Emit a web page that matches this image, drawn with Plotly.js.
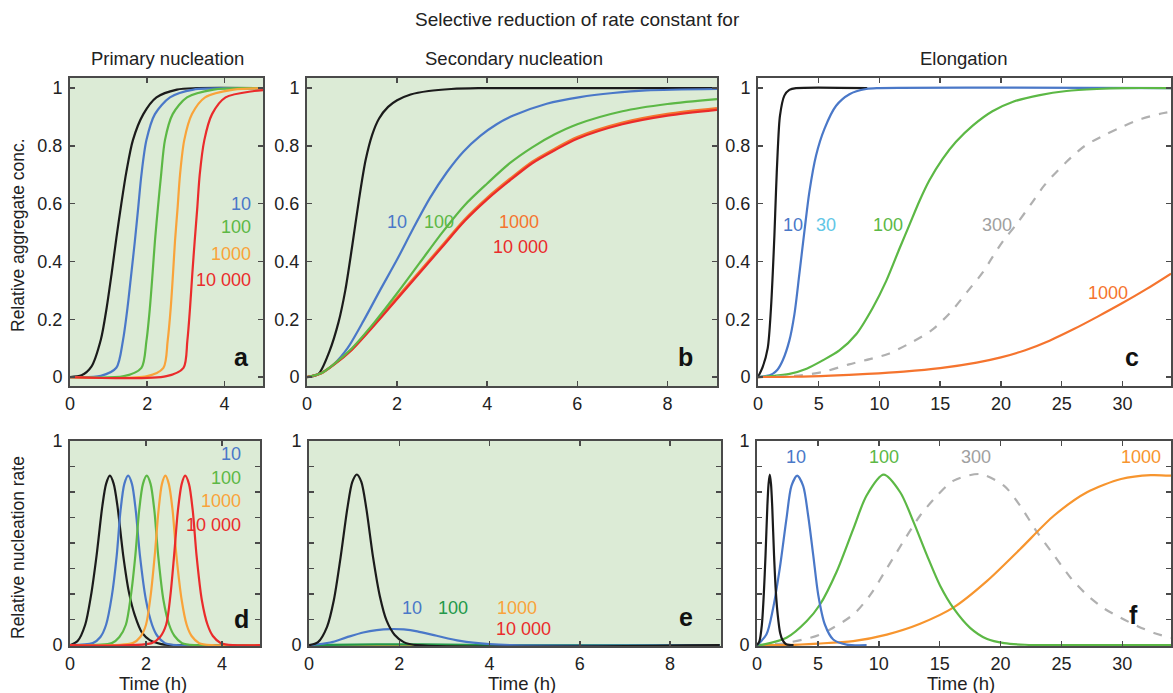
<!DOCTYPE html>
<html>
<head>
<meta charset="utf-8">
<script src="https://cdn.plot.ly/plotly-3.0.1.min.js"></script>
<style>html,body{margin:0;padding:0;background:#fff}#chart{width:1173px;height:693px}</style>
</head>
<body>
<div id="chart"></div>
<script>
// ---------- Panel a: primary nucleation, aggregate concentration ----------
const A_black_x = [0, 0.3, 0.55, 0.8, 0.95, 1.08, 1.2, 1.33, 1.46, 1.63, 1.9, 2.24, 2.77, 3.3, 5];
const A_black_y = [0, 0.006, 0.035, 0.13, 0.24, 0.36, 0.48, 0.6, 0.71, 0.82, 0.91, 0.968, 0.995, 1, 1];
const A_blue_x = [0, 0.8, 1.2, 1.37, 1.49, 1.59, 1.68, 1.77, 1.85, 1.98, 2.2, 2.59, 3.2, 4.2, 5];
const A_blue_y = [0, 0.004, 0.032, 0.125, 0.24, 0.36, 0.47, 0.59, 0.70, 0.82, 0.91, 0.968, 0.995, 1, 1];
const A_green_x = [0, 1.4, 1.85, 1.98, 2.07, 2.14, 2.2, 2.28, 2.36, 2.46, 2.66, 3.03, 3.72, 4.6, 5];
const A_green_y = [0, 0.003, 0.032, 0.125, 0.24, 0.36, 0.47, 0.59, 0.70, 0.82, 0.91, 0.968, 0.995, 1, 1];
const A_orange_x = [0, 2.0, 2.42, 2.53, 2.61, 2.67, 2.72, 2.79, 2.85, 2.96, 3.16, 3.5, 4.24, 5];
const A_orange_y = [0, 0.003, 0.032, 0.125, 0.24, 0.36, 0.47, 0.59, 0.70, 0.82, 0.91, 0.968, 0.995, 0.999];
const A_red_x = [0, 2.5, 2.94, 3.04, 3.11, 3.17, 3.23, 3.3, 3.36, 3.48, 3.68, 4.03, 4.77, 5];
const A_red_y = [0, 0.003, 0.032, 0.125, 0.24, 0.36, 0.47, 0.59, 0.70, 0.82, 0.91, 0.968, 0.99, 0.993];

// ---------- Panel b: secondary nucleation, aggregate concentration ----------
const B_black_x = [0, 0.25, 0.5, 0.7, 0.85, 1.0, 1.15, 1.3, 1.45, 1.6, 1.8, 2.0, 2.3, 2.7, 3.2, 3.8, 9.1];
const B_black_y = [0, 0.01, 0.09, 0.19, 0.3, 0.45, 0.61, 0.75, 0.84, 0.895, 0.935, 0.958, 0.978, 0.99, 0.997, 1, 1];
const B_blue_x = [0, 0.3, 0.6, 0.9, 1.26, 1.62, 1.99, 2.36, 2.73, 3.1, 3.47, 3.84, 4.21, 4.58, 5.32, 6.06, 6.79, 7.53, 9.1];
const B_blue_y = [0, 0.012, 0.045, 0.1, 0.196, 0.3, 0.404, 0.515, 0.62, 0.708, 0.78, 0.834, 0.875, 0.905, 0.946, 0.969, 0.983, 0.992, 0.997];
const B_green_x = [0, 0.3, 0.6, 1.0, 1.5, 2.0, 2.5, 3.0, 3.5, 4.0, 4.5, 5.0, 5.5, 6.0, 7.0, 8.0, 9.1];
const B_green_y = [0, 0.012, 0.045, 0.1, 0.19, 0.29, 0.395, 0.5, 0.595, 0.67, 0.74, 0.795, 0.84, 0.875, 0.92, 0.945, 0.962];
const B_orange_x = [0, 0.3, 0.6, 1.0, 1.5, 2.0, 2.5, 3.0, 3.5, 4.0, 4.5, 5.0, 5.5, 6.0, 7.0, 8.0, 9.1];
const B_orange_y = [0, 0.012, 0.044, 0.097, 0.185, 0.275, 0.365, 0.455, 0.545, 0.62, 0.685, 0.745, 0.79, 0.83, 0.88, 0.91, 0.93];
const B_red_x = [0, 0.3, 0.6, 1.0, 1.5, 2.0, 2.5, 3.0, 3.5, 4.0, 4.5, 5.0, 5.5, 6.0, 7.0, 8.0, 9.1];
const B_red_y = [0, 0.012, 0.043, 0.095, 0.18, 0.27, 0.36, 0.45, 0.54, 0.615, 0.68, 0.74, 0.785, 0.825, 0.875, 0.905, 0.925];

// ---------- Panel c: elongation, aggregate concentration ----------
const C_black_x = [0, 0.38, 0.8, 1.07, 1.21, 1.35, 1.48, 1.62, 1.81, 2.17, 2.58, 3.13, 9];
const C_black_y = [0, 0.034, 0.10, 0.24, 0.355, 0.49, 0.64, 0.78, 0.905, 0.974, 0.994, 1, 1];
const C_blue_x = [0, 0.6, 1.2, 1.6, 2.03, 2.58, 3.0, 3.4, 3.82, 4.23, 4.78, 5.47, 6.43, 7.53, 8.9, 10, 34];
const C_blue_y = [0, 0.003, 0.011, 0.025, 0.057, 0.126, 0.218, 0.355, 0.504, 0.641, 0.767, 0.859, 0.939, 0.979, 0.997, 1, 1];
const C_green_x = [0, 1, 2.6, 4, 5.3, 6.7, 8.1, 9.45, 10.55, 11.65, 12.5, 13.3, 14.1, 15.2, 16.3, 17.7, 19.3, 21, 23.2, 25.4, 27.9, 30, 34];
const C_green_y = [0, 0.003, 0.011, 0.029, 0.057, 0.092, 0.149, 0.24, 0.332, 0.445, 0.53, 0.61, 0.68, 0.755, 0.814, 0.871, 0.92, 0.953, 0.976, 0.99, 0.997, 1, 1];
const C_gray_x = [0, 3, 5.3, 7.5, 9.2, 10.7, 12.5, 14.3, 15.8, 17.2, 18.5, 19.3, 20.2, 21.3, 22.5, 23.6, 25.4, 26.9, 28.6, 29.9, 31.6, 33.2, 34];
const C_gray_y = [0, 0.004, 0.017, 0.044, 0.062, 0.08, 0.117, 0.162, 0.222, 0.294, 0.362, 0.415, 0.472, 0.53, 0.6, 0.665, 0.745, 0.8, 0.839, 0.865, 0.894, 0.912, 0.918];
const C_orange_x = [0, 3, 6, 9, 12, 15, 18, 20, 22, 24, 26, 28, 30, 32, 34];
const C_orange_y = [0, 0.001, 0.005, 0.011, 0.019, 0.031, 0.05, 0.068, 0.093, 0.126, 0.166, 0.21, 0.256, 0.305, 0.358];

// ---------- Panel d: primary nucleation, nucleation rate ----------
const D_black_x = [0, 0.2, 0.4, 0.55, 0.7, 0.85, 0.95, 1.05, 1.15, 1.25, 1.4, 1.55, 1.7, 1.9, 2.1, 2.4, 2.8, 5];
const D_black_y = [0, 0.02, 0.1, 0.24, 0.44, 0.68, 0.79, 0.83, 0.79, 0.68, 0.44, 0.26, 0.15, 0.06, 0.025, 0.005, 0, 0];
const D_blue_x = [0, 0.6, 0.8, 0.95, 1.1, 1.23, 1.33, 1.43, 1.53, 1.63, 1.73, 1.84, 2.0, 2.16, 2.3, 2.5, 2.8, 5];
const D_blue_y = [0, 0.01, 0.04, 0.1, 0.24, 0.44, 0.66, 0.79, 0.83, 0.79, 0.66, 0.44, 0.22, 0.1, 0.045, 0.01, 0, 0];
const D_green_x = [0, 1.1, 1.3, 1.47, 1.6, 1.72, 1.82, 1.92, 2.02, 2.12, 2.22, 2.32, 2.46, 2.61, 2.75, 2.95, 3.3, 5];
const D_green_y = [0, 0.01, 0.04, 0.1, 0.24, 0.44, 0.66, 0.79, 0.83, 0.79, 0.66, 0.44, 0.22, 0.1, 0.045, 0.01, 0, 0];
const D_orange_x = [0, 1.65, 1.85, 2.0, 2.12, 2.23, 2.33, 2.42, 2.51, 2.6, 2.7, 2.8, 2.94, 3.07, 3.2, 3.4, 3.75, 5];
const D_orange_y = [0, 0.01, 0.04, 0.1, 0.24, 0.44, 0.66, 0.79, 0.83, 0.79, 0.66, 0.44, 0.22, 0.1, 0.045, 0.01, 0, 0];
const D_red_x = [0, 2.15, 2.37, 2.53, 2.64, 2.74, 2.84, 2.94, 3.03, 3.13, 3.23, 3.33, 3.47, 3.62, 3.76, 3.97, 4.3, 5];
const D_red_y = [0, 0.01, 0.04, 0.1, 0.24, 0.44, 0.66, 0.79, 0.83, 0.79, 0.66, 0.44, 0.22, 0.1, 0.045, 0.01, 0, 0];

// ---------- Panel e: secondary nucleation, nucleation rate ----------
const E_black_x = [0, 0.2, 0.4, 0.55, 0.7, 0.85, 0.96, 1.06, 1.16, 1.27, 1.42, 1.57, 1.72, 1.9, 2.1, 2.4, 9.1];
const E_black_y = [0, 0.015, 0.09, 0.22, 0.43, 0.67, 0.8, 0.836, 0.8, 0.67, 0.43, 0.24, 0.12, 0.05, 0.015, 0, 0];
const E_blue_x = [0, 0.47, 0.83, 1.2, 1.5, 1.8, 2.1, 2.4, 2.83, 3.35, 4.0, 4.5, 9.1];
const E_blue_y = [0, 0.013, 0.038, 0.062, 0.074, 0.079, 0.077, 0.068, 0.046, 0.021, 0.005, 0, 0];
const E_green_x = [0, 1, 2, 3, 4, 4.5, 9.1];
const E_green_y = [0, 0.003, 0.004, 0.003, 0.001, 0, 0];
const E_orange_x = [0, 4, 9.1];
const E_orange_y = [0, 0, 0];
const E_red_x = [0, 4, 9.1];
const E_red_y = [0, 0, 0];

// ---------- Panel f: elongation, nucleation rate ----------
const F_black_x = [0, 0.2, 0.4, 0.55, 0.7, 0.85, 0.95, 1.05, 1.15, 1.25, 1.4, 1.55, 1.7, 1.9, 2.1, 2.4, 3];
const F_black_y = [0, 0.02, 0.1, 0.24, 0.44, 0.68, 0.79, 0.835, 0.79, 0.68, 0.44, 0.26, 0.15, 0.06, 0.025, 0.005, 0];
const F_blue_x = [0, 0.77, 1.32, 1.87, 2.42, 2.83, 3.3, 3.79, 4.2, 4.62, 5.03, 5.58, 6.26, 7.36, 9];
const F_blue_y = [0, 0.052, 0.18, 0.376, 0.62, 0.78, 0.83, 0.78, 0.635, 0.44, 0.246, 0.10, 0.028, 0.003, 0];
const F_green_x = [0, 0.5, 2.42, 4.07, 5.16, 6.54, 7.91, 9.0, 10.4, 11.76, 12.86, 13.96, 15.05, 16.15, 17.5, 18.9, 20.3, 22, 25, 34];
const F_green_y = [0, 0.003, 0.036, 0.117, 0.198, 0.36, 0.57, 0.733, 0.835, 0.749, 0.603, 0.44, 0.29, 0.18, 0.085, 0.03, 0.01, 0.002, 0, 0];
const F_gray_x = [0, 2.4, 5.16, 7.9, 9.3, 10.66, 12.0, 13.4, 14.8, 16.15, 18.35, 20.3, 21.6, 23.0, 24.4, 25.8, 27.1, 28.5, 29.9, 31.3, 32.6, 34];
const F_gray_y = [0, 0.011, 0.052, 0.15, 0.246, 0.376, 0.506, 0.635, 0.733, 0.806, 0.838, 0.78, 0.684, 0.554, 0.44, 0.327, 0.246, 0.18, 0.133, 0.092, 0.06, 0.036];
const F_orange_x = [0, 2.4, 5, 7.9, 10.66, 13.4, 16.15, 18.9, 21.6, 24.4, 27.1, 29.9, 32.35, 34];
const F_orange_y = [0, 0.001, 0.008, 0.02, 0.052, 0.105, 0.185, 0.315, 0.47, 0.635, 0.749, 0.814, 0.833, 0.83];

// ---------- labels ----------
const colTitles = ["Primary nucleation", "Secondary nucleation", "Elongation"];
const mainTitle = "Selective reduction of rate constant for";
const yTitleTop = "Relative aggregate conc.";
const yTitleBottom = "Relative nucleation rate";
const xTitle = "Time (h)";
const panelLetters = ["a", "b", "c", "d", "e", "f"];
const labelsPrimary = ["10", "100", "1000", "10 000"];
const labelsElong = ["10", "30", "100", "300", "1000"];

// ---------- colours ----------
const BLACK = "#1b1b1b", BLUE = "#4a78c8", GREEN = "#5cb845", ORANGE = "#f9a33a",
      RED = "#ea2b2b", ORANGE2 = "#f5742e", ORANGE3 = "#f7952e", GRAY = "#b0b0b0",
      CYAN = "#62c6e6", DKGREEN = "#23994a", BG = "#dcebd6", FRAME = "#4a4a4a";
const FONT = "Liberation Sans, Arial, Helvetica, sans-serif";
const TICKSIZE = 18, LABELSIZE = 18;

function tr(x, y, color, ax, dash, width) {
  return {x: x, y: y, type: "scatter", mode: "lines", xaxis: "x" + ax, yaxis: "y" + ax,
    line: {color: color, width: width || 2.2, shape: "spline", smoothing: 0.8, dash: dash || "solid"},
    hoverinfo: "skip", showlegend: false};
}
const data = [
  tr(A_black_x, A_black_y, BLACK, ""), tr(A_blue_x, A_blue_y, BLUE, ""), tr(A_green_x, A_green_y, GREEN, ""),
  tr(A_orange_x, A_orange_y, ORANGE, ""), tr(A_red_x, A_red_y, RED, ""),
  tr(B_black_x, B_black_y, BLACK, "2"), tr(B_blue_x, B_blue_y, BLUE, "2"), tr(B_orange_x, B_orange_y, ORANGE2, "2", null, 2.6),
  tr(B_red_x, B_red_y, RED, "2"), tr(B_green_x, B_green_y, GREEN, "2"),
  tr(C_black_x, C_black_y, BLACK, "3"), tr(C_blue_x, C_blue_y, BLUE, "3"), tr(C_green_x, C_green_y, GREEN, "3"),
  tr(C_gray_x, C_gray_y, GRAY, "3", "dash"), tr(C_orange_x, C_orange_y, ORANGE2, "3"),
  tr(D_black_x, D_black_y, BLACK, "4"), tr(D_blue_x, D_blue_y, BLUE, "4"), tr(D_green_x, D_green_y, GREEN, "4"),
  tr(D_orange_x, D_orange_y, ORANGE, "4"), tr(D_red_x, D_red_y, RED, "4"),
  tr(E_red_x, E_red_y, RED, "5"), tr(E_orange_x, E_orange_y, ORANGE, "5"), tr(E_green_x, E_green_y, DKGREEN, "5"),
  tr(E_blue_x, E_blue_y, BLUE, "5"), tr(E_black_x, E_black_y, BLACK, "5"),
  tr(F_gray_x, F_gray_y, GRAY, "6", "dash"), tr(F_orange_x, F_orange_y, ORANGE3, "6"), tr(F_green_x, F_green_y, GREEN, "6"),
  tr(F_blue_x, F_blue_y, BLUE, "6"), tr(F_black_x, F_black_y, BLACK, "6")
];

const W = 1173, H = 693;
function dx(a, b) { return [a / W, b / W]; }
function dy(top, bottom) { return [1 - bottom / H, 1 - top / H]; }
function xax(dom, range, tickvals, anchor) {
  return {domain: dom, range: range, tickvals: tickvals, ticktext: tickvals.map(String), anchor: anchor,
    ticks: "inside", ticklen: 5, tickwidth: 1.5, tickcolor: FRAME, showline: true, linewidth: 2, linecolor: FRAME,
    mirror: "ticks", showgrid: false, zeroline: false, fixedrange: true,
    tickfont: {family: FONT, size: TICKSIZE, color: "#222"}};
}
function yax(dom, range, tickvals, ticktext, anchor) {
  return {domain: dom, range: range, tickvals: tickvals, ticktext: ticktext, anchor: anchor,
    ticks: "inside", ticklen: 5, tickwidth: 1.5, tickcolor: FRAME, showline: true, linewidth: 2, linecolor: FRAME,
    mirror: "ticks", showgrid: false, zeroline: false, fixedrange: true, ticklabelstandoff: 2,
    tickfont: {family: FONT, size: TICKSIZE, color: "#222"}};
}
const topTicks = [0, 0.2, 0.4, 0.6, 0.8, 1];
const topText = ["0", "0.2", "0.4", "0.6", "0.8", "1"];
const botTicks = [0, 0.125, 0.25, 0.375, 0.5, 0.625, 0.75, 0.875, 1];
const botText = ["0", "", "", "", "", "", "", "", "1"];
const topDom = dy(78, 386), botDom = dy(441, 646);
const topR = [-0.031, 1.035], botR = [-0.004, 1.0];

const layout = {
  width: W, height: H, margin: {l: 0, r: 0, t: 0, b: 0},
  paper_bgcolor: "#ffffff", plot_bgcolor: "rgba(0,0,0,0)", showlegend: false,
  font: {family: FONT, size: 16, color: "#222"},
  xaxis: xax(dx(70, 263), [0, 5], [0, 2, 4], "y"),
  yaxis: yax(topDom, topR, topTicks, topText, "x"),
  xaxis2: xax(dx(307, 717), [0, 9.1], [0, 2, 4, 6, 8], "y2"),
  yaxis2: yax(topDom, topR, topTicks, topText, "x2"),
  xaxis3: xax(dx(758, 1171), [0, 34], [0, 5, 10, 15, 20, 25, 30], "y3"),
  yaxis3: yax(topDom, topR, topTicks, topText, "x3"),
  xaxis4: xax(dx(70, 260), [0, 5], [0, 2, 4], "y4"),
  yaxis4: yax(botDom, botR, botTicks, botText, "x4"),
  xaxis5: xax(dx(309, 721), [0, 9.13], [0, 2, 4, 6, 8], "y5"),
  yaxis5: yax(botDom, botR, botTicks, botText, "x5"),
  xaxis6: xax(dx(757, 1171), [0, 34], [0, 5, 10, 15, 20, 25, 30], "y6"),
  yaxis6: yax(botDom, botR, botTicks, botText, "x6"),
  shapes: ["", "2", "4", "5"].map(a => ({type: "rect", xref: "x" + a + " domain", yref: "y" + a + " domain",
    x0: 0, x1: 1, y0: 0, y1: 1, fillcolor: BG, line: {width: 0}, layer: "below"})),
  annotations: []
};

const ann = layout.annotations;
function paperText(text, x, y, size, extra) {
  ann.push(Object.assign({text: text, x: x / W, y: 1 - y / H, xref: "paper", yref: "paper", showarrow: false,
    xanchor: "center", yanchor: "middle", font: {family: FONT, size: size, color: "#222"}}, extra || {}));
}
paperText(mainTitle, 577, 19, 19);
paperText(colTitles[0], 167, 58, 18.5);
paperText(colTitles[1], 514, 58, 18.5);
paperText(colTitles[2], 963, 58, 18.5);
paperText(yTitleTop, 18, 235, 17.5, {textangle: -90});
paperText(yTitleBottom, 18, 548, 17.5, {textangle: -90});
paperText(xTitle, 153, 683, 18.5);
paperText(xTitle, 522, 683, 18.5);
paperText(xTitle, 961, 683, 18.5);

function dataText(text, ax, x, y, color, xanchor) {
  ann.push({text: text, x: x, y: y, xref: "x" + ax, yref: "y" + ax, showarrow: false,
    xanchor: xanchor || "center", yanchor: "middle", font: {family: FONT, size: LABELSIZE, color: color}});
}
// panel letters
const letterPos = [["", 4.45, 0.07], ["2", 8.4, 0.07], ["3", 30.8, 0.07], ["4", 4.5, 0.13], ["5", 8.35, 0.14], ["6", 30.9, 0.15]];
letterPos.forEach((p, i) => ann.push({text: "<b>" + panelLetters[i] + "</b>", x: p[1], y: p[2], xref: "x" + p[0], yref: "y" + p[0],
  showarrow: false, xanchor: "center", yanchor: "middle", font: {family: FONT, size: 25, color: "#111"}}));

// panel a labels (right aligned)
dataText(labelsPrimary[0], "", 4.75, 0.60, BLUE, "right");
dataText(labelsPrimary[1], "", 4.75, 0.52, GREEN, "right");
dataText(labelsPrimary[2], "", 4.75, 0.425, ORANGE, "right");
dataText(labelsPrimary[3], "", 4.75, 0.335, RED, "right");
// panel b
dataText(labelsPrimary[0], "2", 2.0, 0.535, BLUE);
dataText(labelsPrimary[1], "2", 2.93, 0.535, GREEN);
dataText(labelsPrimary[2], "2", 4.7, 0.535, ORANGE2);
dataText(labelsPrimary[3], "2", 4.74, 0.45, RED);
// panel c
dataText(labelsElong[0], "3", 2.9, 0.525, BLUE);
dataText(labelsElong[1], "3", 5.6, 0.525, CYAN);
dataText(labelsElong[2], "3", 10.7, 0.525, GREEN);
dataText(labelsElong[3], "3", 19.7, 0.525, "#a0a0a0");
dataText(labelsElong[4], "3", 28.8, 0.29, ORANGE2);
// panel d
dataText(labelsPrimary[0], "4", 4.55, 0.935, BLUE, "right");
dataText(labelsPrimary[1], "4", 4.55, 0.82, GREEN, "right");
dataText(labelsPrimary[2], "4", 4.55, 0.705, ORANGE, "right");
dataText(labelsPrimary[3], "4", 4.55, 0.59, RED, "right");
// panel e
dataText(labelsPrimary[0], "5", 2.28, 0.18, BLUE);
dataText(labelsPrimary[1], "5", 3.2, 0.18, DKGREEN);
dataText(labelsPrimary[2], "5", 4.6, 0.18, ORANGE);
dataText(labelsPrimary[3], "5", 4.75, 0.08, RED);
// panel f
dataText(labelsElong[0], "6", 3.2, 0.92, BLUE);
dataText(labelsElong[2], "6", 10.4, 0.92, GREEN);
dataText(labelsElong[3], "6", 18.0, 0.92, "#a0a0a0");
dataText(labelsElong[4], "6", 31.5, 0.92, ORANGE3);

Plotly.newPlot("chart", data, layout, {staticPlot: true, displayModeBar: false});
</script>
</body>
</html>
